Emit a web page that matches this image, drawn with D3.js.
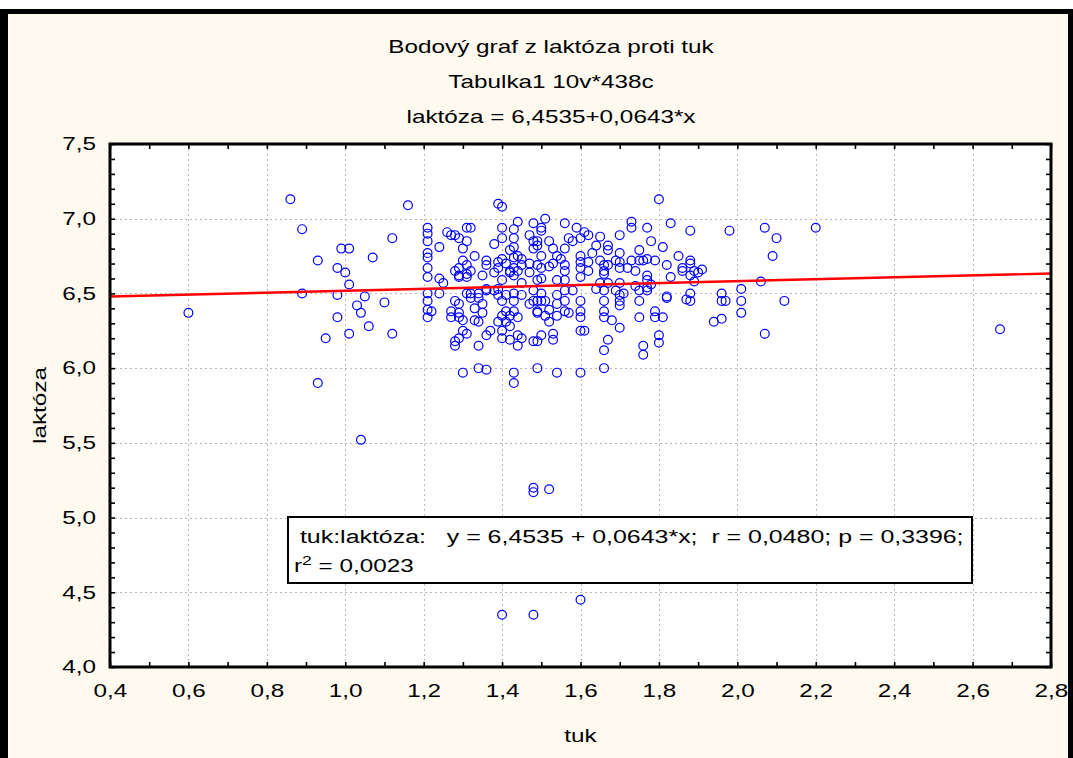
<!DOCTYPE html>
<html>
<head>
<meta charset="utf-8">
<script src="https://cdn.jsdelivr.net/npm/d3@7"></script>
<style>
  html, body { margin: 0; padding: 0; background: #fff; }
  svg { display: block; font-family: "Liberation Sans", Arial, sans-serif; }
</style>
</head>
<body>
<svg id="chart" width="1073" height="758"></svg>
<script>
(function() {

	// DATA
	var titleLines = ['Bodový graf z laktóza proti tuk', 'Tabulka1 10v*438c', 'laktóza = 6,4535+0,0643*x'];
	var xLabel = 'tuk';
	var yLabel = 'laktóza';
	var xTicks = [0.4, 0.6, 0.8, 1.0, 1.2, 1.4, 1.6, 1.8, 2.0, 2.2, 2.4, 2.6, 2.8];
	var yTicks = [4.0, 4.5, 5.0, 5.5, 6.0, 6.5, 7.0, 7.5];
	var fitCoef = [6.4535, 0.0643]; // intercept, slope
	var statsText = ' tuk:laktóza:   y = 6,4535 + 0,0643*x;  r = 0,0480; p = 0,3396;';
	var r2Text = ' = 0,0023';

	// [tuk, laktóza]
	var leftPoints = [
		[0.60,6.37],[0.86,7.13],[0.89,6.93],[0.89,6.50],[0.93,6.72],[0.93,5.90],[0.95,6.20],[0.98,6.67],
		[0.99,6.80],[1.01,6.80],[1.00,6.64],[1.01,6.56],[0.98,6.49],[1.05,6.48],[1.03,6.42],[1.04,6.37],
		[0.98,6.34],[1.10,6.44],[1.06,6.28],[1.01,6.23],[1.12,6.23],[1.07,6.74],[1.12,6.87],[1.16,7.09],
		[1.04,5.52]
	];
	var coreUpperLeft = [
		[1.39,7.10],[1.40,7.08],[1.44,6.98],[1.48,6.97],
		[1.21,6.94],[1.21,6.90],[1.21,6.85],[1.26,6.91],[1.27,6.89],[1.28,6.89],[1.29,6.87],
		[1.31,6.94],[1.32,6.94],[1.31,6.85],[1.30,6.80],[1.24,6.81],
		[1.40,6.94],[1.40,6.87],[1.43,6.93],[1.43,6.87],[1.38,6.83],
		[1.21,6.77],[1.21,6.74],[1.33,6.75],
		[1.43,6.81],[1.42,6.79],[1.43,6.74],[1.44,6.75],[1.45,6.73],
		[1.47,6.89],[1.48,6.85],[1.48,6.80],
		[1.30,6.72],[1.29,6.67],[1.28,6.65],[1.31,6.69],[1.32,6.65],[1.31,6.63],
		[1.36,6.72],[1.36,6.69],[1.35,6.62],[1.39,6.71],[1.39,6.67],[1.38,6.64],
		[1.41,6.70],[1.42,6.64],[1.43,6.67],[1.43,6.62],[1.45,6.69],[1.47,6.70],[1.47,6.64],
		[1.21,6.67],[1.21,6.61],[1.24,6.60],[1.25,6.57],[1.29,6.62],
		[1.40,6.59],[1.45,6.57],[1.49,6.59],
		[1.40,6.73],[1.42,6.65],[1.44,6.65],[1.29,6.61],[1.31,6.61]
	];
	var coreUpperRight = [
		[1.51,7.00],[1.50,6.94],[1.50,6.92],[1.56,6.97],[1.59,6.94],[1.61,6.91],
		[1.57,6.87],[1.58,6.85],[1.60,6.87],[1.62,6.89],[1.65,6.88],
		[1.73,6.98],[1.73,6.94],[1.77,6.94],[1.70,6.89],[1.78,6.85],[1.81,6.81],
		[1.49,6.85],[1.49,6.82],[1.52,6.85],[1.53,6.80],[1.54,6.75],[1.56,6.80],
		[1.64,6.82],[1.67,6.82],[1.67,6.79],
		[1.50,6.75],[1.49,6.69],[1.50,6.67],[1.53,6.70],[1.55,6.73],[1.56,6.69],
		[1.60,6.75],[1.60,6.71],[1.60,6.67],[1.62,6.71],[1.63,6.77],
		[1.65,6.72],[1.66,6.69],[1.66,6.65],[1.70,6.71],[1.70,6.67],[1.72,6.67],[1.70,6.77],
		[1.73,6.72],[1.75,6.72],[1.76,6.72],[1.77,6.73],[1.79,6.72],[1.75,6.79],
		[1.50,6.60],[1.54,6.59],[1.60,6.61],[1.66,6.63],[1.65,6.57],[1.70,6.57],
		[1.77,6.62],[1.77,6.59],[1.82,6.69],[1.74,6.55],[1.78,6.56],
		[1.56,6.59],[1.52,6.68],[1.67,6.69],[1.74,6.65],[1.62,6.65],[1.67,6.57],[1.69,6.72],[1.56,6.65]
	];
	var coreLowerLeft = [
		[1.21,6.45],[1.21,6.39],[1.22,6.38],[1.21,6.34],[1.21,6.50],[1.24,6.50],
		[1.28,6.45],[1.29,6.43],[1.27,6.38],[1.29,6.37],[1.27,6.34],[1.29,6.34],
		[1.31,6.50],[1.32,6.50],[1.34,6.50],[1.32,6.47],[1.34,6.47],
		[1.35,6.43],[1.33,6.40],[1.35,6.37],[1.33,6.32],[1.34,6.31],[1.30,6.32],
		[1.36,6.52],[1.38,6.52],[1.39,6.49],[1.41,6.49],[1.43,6.50],[1.45,6.49],[1.48,6.52],
		[1.40,6.45],[1.43,6.45],[1.41,6.38],[1.43,6.38],[1.40,6.35],[1.42,6.35],[1.44,6.34],
		[1.47,6.43],[1.49,6.37],[1.48,6.45],
		[1.39,6.31],[1.41,6.31],[1.42,6.28],[1.37,6.25],[1.40,6.25],[1.36,6.22],
		[1.31,6.23],[1.29,6.20],[1.28,6.18],[1.28,6.15],[1.34,6.15],
		[1.40,6.20],[1.42,6.19],[1.44,6.22],[1.45,6.20],[1.44,6.15],[1.48,6.18],
		[1.36,6.53],[1.39,6.53],[1.30,6.25]
	];
	var coreLowerRight = [
		[1.50,6.50],[1.49,6.45],[1.49,6.38],[1.50,6.45],[1.51,6.45],
		[1.54,6.49],[1.54,6.43],[1.52,6.39],[1.52,6.31],[1.54,6.35],
		[1.56,6.52],[1.56,6.45],[1.56,6.38],[1.57,6.37],[1.60,6.34],
		[1.60,6.45],[1.60,6.38],[1.58,6.52],
		[1.64,6.53],[1.66,6.52],[1.66,6.45],[1.66,6.38],[1.66,6.34],[1.68,6.32],[1.70,6.27],
		[1.69,6.52],[1.70,6.49],[1.70,6.45],[1.71,6.50],
		[1.75,6.52],[1.75,6.45],[1.75,6.34],[1.77,6.52],[1.79,6.38],[1.79,6.34],[1.81,6.34],[1.82,6.47],
		[1.50,6.22],[1.53,6.23],[1.53,6.19],[1.49,6.18],[1.60,6.25],[1.61,6.25],
		[1.67,6.19],[1.66,6.12],[1.76,6.15],[1.76,6.09],[1.80,6.22],[1.80,6.17],
		[1.51,6.35],[1.70,6.42],[1.77,6.54]
	];
	var rightPoints = [
		[1.80,7.13],[1.83,6.97],[1.88,6.92],[1.98,6.92],[2.07,6.94],[2.20,6.94],[2.10,6.87],[2.09,6.75],
		[1.85,6.75],[1.88,6.72],[1.88,6.70],[1.86,6.67],[1.86,6.65],[1.89,6.65],[1.91,6.66],[1.90,6.64],
		[1.88,6.62],[1.83,6.61],[1.89,6.58],[2.06,6.58],[2.01,6.53],[1.96,6.50],[1.88,6.50],[1.82,6.48],
		[1.87,6.46],[1.88,6.45],[1.96,6.45],[1.97,6.45],[2.01,6.45],[2.12,6.45],[2.01,6.37],[1.96,6.33],
		[1.94,6.31],[2.07,6.23],[2.67,6.26]
	];
	var lowPoints = [
		[1.30,5.97],[1.34,6.00],[1.36,5.99],[1.43,5.97],[1.43,5.90],[1.49,6.00],[1.54,5.97],[1.60,5.97],[1.66,6.00],
		[1.48,5.20],[1.48,5.17],[1.52,5.19],[1.40,4.35],[1.48,4.35],[1.60,4.45]
	];

	// LAYOUT
	var W = 1073, H = 758;
	var plot = { left: 110, right: 1051, top: 144, bottom: 667 };
	var SX = 1.35; // horizontal stretch of the text
	var fontSize = 18;
	var cream = '#FFFAF0';

	var svg = d3.select('#chart');

	var fmt = function(d) { return d3.format('.1f')(d).replace('.', ','); };

	var x = d3.scaleLinear().domain([0.4, 2.8]).range([plot.left, plot.right]);
	var y = d3.scaleLinear().domain([4.0, 7.5]).range([plot.bottom, plot.top]);

	// frame + background
	svg.append('rect').attr('x', 0).attr('y', 0).attr('width', W).attr('height', H).attr('fill', '#fff');
	svg.append('rect').attr('x', 0).attr('y', 9).attr('width', W).attr('height', H - 9).attr('fill', '#000');
	svg.append('rect').attr('x', 8).attr('y', 14).attr('width', W - 13).attr('height', H - 14).attr('fill', cream);

	function stretchText(parent, px, py, str, anchor, sx) {
		return parent.append('text')
			.attr('transform', 'translate(' + px + ',' + py + ') scale(' + (sx || SX) + ',1)')
			.attr('text-anchor', anchor || 'middle')
			.attr('font-size', fontSize)
			.attr('fill', '#000')
			.style('white-space', 'pre')
			.text(str);
	}

	// titles
	var titleY = [53, 88, 123];
	titleLines.forEach(function(t, i) {
		stretchText(svg, 551, titleY[i], t);
	});

	// plot area
	svg.append('rect')
		.attr('x', plot.left).attr('y', plot.top)
		.attr('width', plot.right - plot.left).attr('height', plot.bottom - plot.top)
		.attr('fill', '#fff');

	// grid
	var grid = svg.append('g').attr('class', 'grid')
		.attr('stroke', '#b8b8b8').attr('stroke-width', 1).attr('stroke-dasharray', '2,3');
	grid.selectAll('.gx').data(xTicks.slice(1, -1)).enter().append('line')
		.attr('x1', function(d) { return Math.round(x(d)) + 0.5; })
		.attr('x2', function(d) { return Math.round(x(d)) + 0.5; })
		.attr('y1', plot.top).attr('y2', plot.bottom);
	grid.selectAll('.gy').data(yTicks.slice(1, -1)).enter().append('line')
		.attr('y1', function(d) { return Math.round(y(d)) + 0.5; })
		.attr('y2', function(d) { return Math.round(y(d)) + 0.5; })
		.attr('x1', plot.left).attr('x2', plot.right);

	// points
	var allPoints = [].concat(leftPoints, coreUpperLeft, coreUpperRight, coreLowerLeft, coreLowerRight, rightPoints, lowPoints);
	svg.append('g').attr('class', 'points')
		.selectAll('circle').data(allPoints).enter().append('circle')
		.attr('cx', function(d) { return x(d[0]); })
		.attr('cy', function(d) { return y(d[1]); })
		.attr('r', 4.4)
		.attr('fill', 'none')
		.attr('stroke', '#0000FF')
		.attr('stroke-width', 1.2);

	// regression line
	var fitLine = d3.line()
		.x(function(d) { return x(d); })
		.y(function(d) { return y(fitCoef[0] + fitCoef[1] * d); });
	svg.append('path')
		.datum(x.domain())
		.attr('d', fitLine)
		.attr('fill', 'none')
		.attr('stroke', '#FF0000')
		.attr('stroke-width', 2.4);

	// inward minor ticks on all four sides
	var minorX = x.ticks(24), minorY = y.ticks(35);
	var axisStyle = function(g) {
		g.select('.domain').remove();
		g.selectAll('line').attr('stroke', '#000').attr('stroke-width', 1.6);
	};
	svg.append('g').attr('transform', 'translate(0,' + plot.bottom + ')')
		.call(d3.axisBottom(x).tickValues(minorX).tickSize(-5).tickFormat('')).call(axisStyle);
	svg.append('g').attr('transform', 'translate(0,' + plot.top + ')')
		.call(d3.axisTop(x).tickValues(minorX).tickSize(-5).tickFormat('')).call(axisStyle);
	svg.append('g').attr('transform', 'translate(' + plot.left + ',0)')
		.call(d3.axisLeft(y).tickValues(minorY).tickSize(-5).tickFormat('')).call(axisStyle);
	svg.append('g').attr('transform', 'translate(' + plot.right + ',0)')
		.call(d3.axisRight(y).tickValues(minorY).tickSize(-5).tickFormat('')).call(axisStyle);

	// tick labels
	var xLab = svg.append('g').attr('transform', 'translate(0,' + plot.bottom + ')')
		.call(d3.axisBottom(x).tickValues(xTicks).tickSize(0).tickPadding(17).tickFormat(fmt));
	xLab.select('.domain').remove();
	xLab.attr('font-size', fontSize).attr('font-family', null);
	xLab.selectAll('text').attr('fill', '#000').attr('transform', 'scale(' + SX + ',1)');

	var yLab = svg.append('g').attr('transform', 'translate(' + plot.left + ',0)')
		.call(d3.axisLeft(y).tickValues(yTicks).tickSize(0).tickFormat(fmt));
	yLab.select('.domain').remove();
	yLab.attr('font-size', fontSize).attr('font-family', null);
	yLab.selectAll('text').attr('fill', '#000')
		.attr('x', -14 / SX)
		.attr('transform', 'scale(' + SX + ',1)');

	// plot frame
	svg.append('rect')
		.attr('x', plot.left).attr('y', plot.top)
		.attr('width', plot.right - plot.left).attr('height', plot.bottom - plot.top)
		.attr('fill', 'none').attr('stroke', '#000').attr('stroke-width', 3);

	// axis titles
	stretchText(svg, (plot.left + plot.right) / 2, 742, xLabel);
	svg.append('text')
		.attr('transform', 'translate(46,' + ((plot.top + plot.bottom) / 2) + ') rotate(-90) scale(' + SX + ',1)')
		.attr('text-anchor', 'middle')
		.attr('font-size', fontSize)
		.text(yLabel);

	// stats box
	var box = { x: 288, y: 517, w: 684, h: 66 };
	svg.append('rect')
		.attr('x', box.x).attr('y', box.y).attr('width', box.w).attr('height', box.h)
		.attr('fill', '#fff').attr('stroke', '#000').attr('stroke-width', 2);
	stretchText(svg, box.x + 5, 543, statsText, 'start', 1.385);
	var r2 = stretchText(svg, box.x + 6, 572, '', 'start');
	r2.append('tspan').text('r');
	r2.append('tspan').attr('font-size', 13).attr('dy', -7).text('2');
	r2.append('tspan').attr('dy', 7).text(r2Text);

})();
</script>
</body>
</html>
